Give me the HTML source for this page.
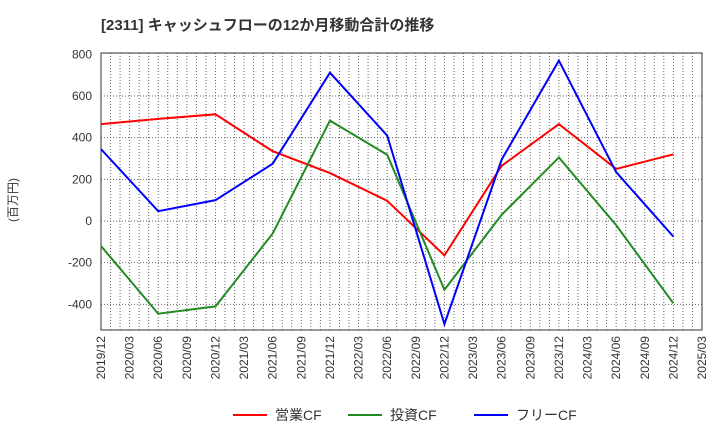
<!DOCTYPE html>
<html><head><meta charset="utf-8"><style>
body{margin:0;background:#fff;font-family:"Liberation Sans","Noto Sans CJK JP",sans-serif;}
svg text{font-family:"Liberation Sans","Noto Sans CJK JP",sans-serif;}
</style></head><body>
<svg id="chart" width="720" height="440" xmlns="http://www.w3.org/2000/svg">
<text x="101" y="30" font-size="15" font-weight="bold" fill="#333">[2311]  キャッシュフローの12か月移動合計の推移</text>
<text transform="translate(17,200) rotate(-90)" font-size="12" fill="#333" text-anchor="middle">(百万円)</text>
<g id="grid"></g><g id="axes"></g><g id="series"></g><g id="legend"></g>
</svg>
<script>
const categories=["2019/12","2020/03","2020/06","2020/09","2020/12","2021/03","2021/06","2021/09","2021/12","2022/03","2022/06","2022/09","2022/12","2023/03","2023/06","2023/09","2023/12","2024/03","2024/06","2024/09","2024/12","2025/03"];
const yTicks=[-400,-200,0,200,400,600,800];
const pointIdx=[0,2,4,6,8,10,12,14,16,18,20];
const opCF=[465,490,512,335,230,97,-165,265,465,250,320];
const invCF=[-120,-445,-410,-60,482,318,-330,30,305,-20,-395];
const freeCF=[345,47,100,275,712,410,-495,295,770,235,-75];
const seriesNames=["営業CF","投資CF","フリーCF"];
const NS="http://www.w3.org/2000/svg";
const L=101,R=702,T=53,B=330;
const x=i=>L+(R-L)*i/(categories.length-1);
const y=v=>221-(v)*(250/1200);
function mk(tag,attrs,parent){const e=document.createElementNS(NS,tag);for(const k in attrs)e.setAttribute(k,attrs[k]);document.getElementById(parent).appendChild(e);return e;}
const nMonths=(categories.length-1)*3;
for(let m=1;m<nMonths;m++){
 const xm=L+(R-L)*m/nMonths;
 const g=mk('line',{x1:xm,x2:xm,y1:T,y2:B,stroke:'#666','stroke-width':1,'stroke-dasharray':'1,2'},'grid');
 
 
}
categories.forEach((c,i)=>{
 const t=mk('text',{transform:`translate(${x(i)+4},${B+6}) rotate(-90)`,'font-size':12,fill:'#333','text-anchor':'end'},'axes');t.textContent=c;
 
 
});
yTicks.forEach(v=>{
 if(v!==800){const g=mk('line',{x1:L,x2:R,y1:y(v),y2:y(v),stroke:'#666','stroke-width':1,'stroke-dasharray':'1,2'},'grid');
 
 }
 const t=mk('text',{x:L-9,y:y(v)+4,'font-size':12,fill:'#333','text-anchor':'end'},'axes');t.textContent=v;
 
 
});
const fr=mk('rect',{x:L,y:T,width:R-L,height:B-T,fill:'none',stroke:'#333','stroke-width':1},'axes');


const colors=['#ff0000','#228b22','#0000ff'];
[opCF,invCF,freeCF].forEach((d,s)=>{
 const p=mk('polyline',{points:d.map((v,k)=>x(pointIdx[k])+','+y(v)).join(' '),fill:'none',stroke:colors[s],'stroke-width':2},'series');
 
 
});
const lx=[233,348,474];
seriesNames.forEach((n,s)=>{
 const l=mk('line',{x1:lx[s],x2:lx[s]+34,y1:415,y2:415,stroke:colors[s],'stroke-width':2},'legend');
 
 
 const t=mk('text',{x:lx[s]+42,y:420,'font-size':14,fill:'#333'},'legend');t.textContent=n;
 
 
});
</script>
</body></html>
